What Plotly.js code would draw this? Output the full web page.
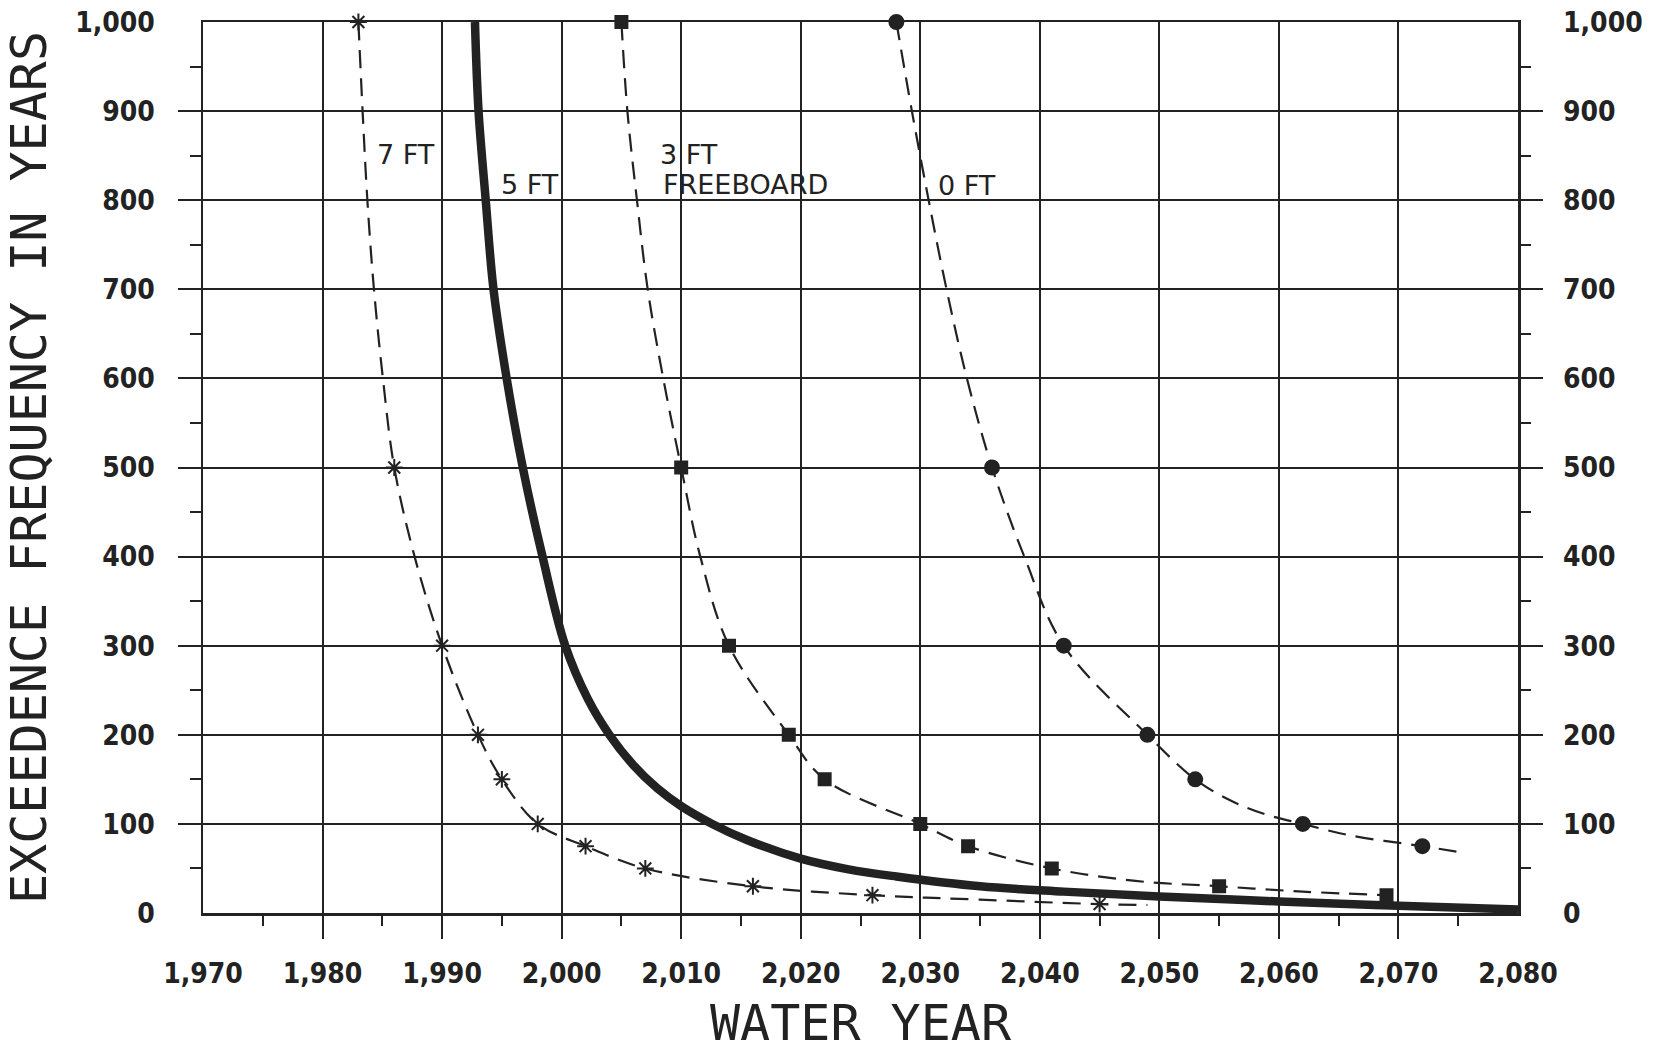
<!DOCTYPE html>
<html>
<head>
<meta charset="utf-8">
<script src="https://cdn.plot.ly/plotly-3.0.1.min.js"></script>
<style>
  html, body { margin: 0; padding: 0; background: #ffffff; }
  #chart { width: 1658px; height: 1055px; }
</style>
</head>
<body>
<div id="chart"></div>
<script>
// Axis ticks and labels
const xTickVals = [1970, 1980, 1990, 2000, 2010, 2020, 2030, 2040, 2050, 2060, 2070, 2080];
const xTickLabels = ['1,970', '1,980', '1,990', '2,000', '2,010', '2,020', '2,030', '2,040', '2,050', '2,060', '2,070', '2,080'];
const xMinorVals = [1975, 1985, 1995, 2005, 2015, 2025, 2035, 2045, 2055, 2065, 2075];
const yTickVals = [0, 100, 200, 300, 400, 500, 600, 700, 800, 900, 1000];
const yTickLabels = ['0', '100', '200', '300', '400', '500', '600', '700', '800', '900', '1,000'];
const yMinorVals = [50, 150, 250, 350, 450, 550, 650, 750, 850, 950];

// 7 ft freeboard
const ft7CurveYears  = [1983, 1983.35, 1983.75, 1984.3, 1985.05, 1986, 1987.7, 1990, 1993, 1995, 1998, 2002, 2007, 2016, 2026, 2035, 2045, 2049];
const ft7CurveValues = [1000, 900, 800, 700, 600, 500, 400, 300, 200, 150, 100, 75, 50, 30, 20, 15, 10, 9];
const ft7MarkerYears  = [1983, 1986, 1990, 1993, 1995, 1998, 2002, 2007, 2016, 2026, 2045];
const ft7MarkerValues = [1000, 500, 300, 200, 150, 100, 75, 50, 30, 20, 10];

// 5 ft freeboard
const ft5CurveYears  = [1992.75, 1993.05, 1993.65, 1994.3, 1995.4, 1996.75, 1998.4, 2000.3, 2002.2, 2004, 2006, 2008, 2010, 2012.6, 2015.5, 2020, 2024, 2028, 2035, 2042, 2050, 2060, 2070, 2080];
const ft5CurveValues = [1000, 900, 800, 700, 600, 500, 400, 300, 240, 200, 166, 140, 120, 100, 82, 61, 49, 41, 30, 24, 18.5, 13, 8, 4];

// 3 ft freeboard
const ft3CurveYears  = [2005, 2005.5, 2006.3, 2007.2, 2008.5, 2010, 2011.6, 2014, 2019, 2022, 2030, 2034, 2041, 2048, 2055, 2062, 2069];
const ft3CurveValues = [1000, 900, 800, 700, 600, 500, 400, 300, 200, 150, 100, 75, 50, 36, 30, 24, 20];
const ft3MarkerYears  = [2005, 2010, 2014, 2019, 2022, 2030, 2034, 2041, 2055, 2069];
const ft3MarkerValues = [1000, 500, 300, 200, 150, 100, 75, 50, 30, 20];

// 0 ft freeboard
const ft0CurveYears  = [2028, 2029.3, 2030.7, 2032.2, 2033.9, 2036, 2038.7, 2042, 2049, 2053, 2056, 2058.8, 2062, 2066, 2072, 2075.3];
const ft0CurveValues = [1000, 900, 800, 700, 600, 500, 400, 300, 200, 150, 126, 111, 100, 87, 75, 68];
const ft0MarkerYears  = [2028, 2036, 2042, 2049, 2053, 2062, 2072];
const ft0MarkerValues = [1000, 500, 300, 200, 150, 100, 75];

// Curve labels
const labelTexts  = ['7 FT', '5 FT', '3 FT', 'FREEBOARD', '0 FT'];
const labelYears  = [1984.4, 1994.8, 2008.1, 2008.3, 2031.3];
const labelValues = [851, 818, 851, 818, 816];

const INK = '#222222';
const DASH = '18px,10px';
const tickFont = { family: '"DejaVu Sans Condensed", "Liberation Sans Narrow", sans-serif', size: 28, weight: 'bold', color: INK };
const titleFont = { family: '"DejaVu Sans Mono", "Liberation Mono", monospace', size: 50, color: INK };

function curve(xs, ys, width, dash) {
  return {
    x: xs, y: ys, type: 'scatter', mode: 'lines',
    line: { color: INK, width: width, dash: dash, shape: 'spline', smoothing: 1 },
    hoverinfo: 'skip', showlegend: false
  };
}
function points(xs, ys, symbol, size, xaxis, yaxis) {
  return {
    x: xs, y: ys, type: 'scatter', mode: 'markers', cliponaxis: false,
    xaxis: xaxis, yaxis: yaxis,
    marker: { symbol: symbol, size: size, color: INK, line: { color: INK, width: 2 } },
    hoverinfo: 'skip', showlegend: false
  };
}

const data = [
  curve(ft7CurveYears, ft7CurveValues, 2.2, DASH),
  curve(ft3CurveYears, ft3CurveValues, 2.2, DASH),
  curve(ft0CurveYears, ft0CurveValues, 2.2, DASH),
  curve(ft5CurveYears, ft5CurveValues, 8.5, 'solid'),
  // marker sets share the same scales; each one carries one of the overlay axes
  points(ft7MarkerYears, ft7MarkerValues, 'asterisk-open', 14, 'x2', 'y'),
  points(ft3MarkerYears, ft3MarkerValues, 'square', 12, 'x', 'y2'),
  points(ft0MarkerYears, ft0MarkerValues, 'circle', 14, 'x', 'y3')
];

const annotations = labelTexts.map((t, i) => ({
  x: labelYears[i], y: labelValues[i], xref: 'x', yref: 'y',
  text: t, showarrow: false, xanchor: 'left', yanchor: 'middle',
  font: { family: '"DejaVu Sans", sans-serif', size: 27, color: INK }
}));

const layout = {
  width: 1658, height: 1055,
  margin: { l: 203, r: 140, t: 22, b: 142 },
  paper_bgcolor: '#ffffff', plot_bgcolor: '#ffffff',
  showlegend: false,
  font: { color: INK },
  xaxis: {
    range: [1970, 2080], tickmode: 'array', tickvals: xTickVals, ticktext: xTickLabels,
    ticks: '', ticklabelstandoff: 34, tickfont: tickFont,
    showgrid: true, gridcolor: INK, gridwidth: 2,
    showline: true, mirror: true, linecolor: INK, linewidth: 2.5,
    zeroline: false, fixedrange: true,
    title: { text: 'WATER YEAR', font: titleFont, standoff: 16 }
  },
  yaxis: {
    range: [0, 1000], tickmode: 'array', tickvals: yTickVals, ticktext: yTickLabels,
    ticks: '', ticklabelstandoff: 40, tickfont: tickFont,
    showgrid: true, gridcolor: INK, gridwidth: 2,
    showline: true, mirror: true, linecolor: INK, linewidth: 2.5,
    zeroline: false, fixedrange: true,
    title: { text: 'EXCEEDENCE FREQUENCY IN YEARS', font: titleFont, standoff: 21 }
  },
  // tick marks only (interior majors plus minors)
  xaxis2: {
    overlaying: 'x', anchor: 'y', side: 'bottom', range: [1970, 2080],
    tickmode: 'array', tickvals: xTickVals.slice(1, -1), showticklabels: false,
    ticks: 'outside', ticklen: 25, tickwidth: 2, tickcolor: INK,
    minor: { tickmode: 'array', tickvals: xMinorVals, ticks: 'outside', ticklen: 12, tickwidth: 2, tickcolor: INK },
    showgrid: false, showline: false, zeroline: false, fixedrange: true
  },
  yaxis2: {
    overlaying: 'y', anchor: 'x', side: 'left', range: [0, 1000],
    tickmode: 'array', tickvals: yTickVals.slice(1, -1), showticklabels: false,
    ticks: 'outside', ticklen: 24, tickwidth: 2, tickcolor: INK, mirror: 'ticks',
    minor: { tickmode: 'array', tickvals: yMinorVals, ticks: 'outside', ticklen: 12, tickwidth: 2, tickcolor: INK },
    showgrid: false, showline: false, zeroline: false, fixedrange: true
  },
  // right-hand value labels
  yaxis3: {
    overlaying: 'y', anchor: 'x', side: 'right', range: [0, 1000],
    tickmode: 'array', tickvals: yTickVals, ticktext: yTickLabels,
    ticks: '', ticklabelstandoff: 44, tickfont: tickFont,
    showgrid: false, showline: false, zeroline: false, fixedrange: true
  },
  annotations: annotations
};

Plotly.newPlot('chart', data, layout, { staticPlot: true, displayModeBar: false });
</script>
</body>
</html>
